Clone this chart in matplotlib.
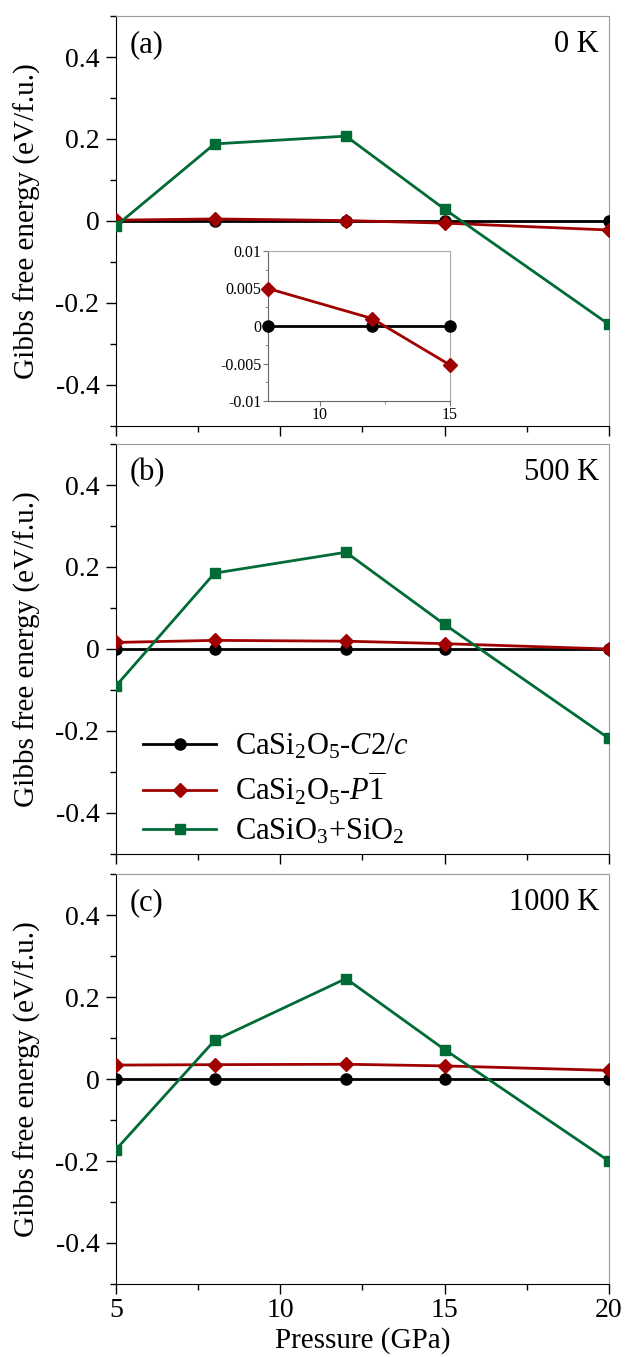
import matplotlib
matplotlib.use("Agg")
import matplotlib.pyplot as plt
from matplotlib.ticker import MultipleLocator

plt.rcParams['font.family'] = ['Liberation Serif', 'DejaVu Serif']
plt.rcParams['mathtext.fontset'] = 'custom'
plt.rcParams['mathtext.rm'] = 'Liberation Serif'
plt.rcParams['mathtext.it'] = 'Liberation Serif:italic'
plt.rcParams['mathtext.bf'] = 'Liberation Serif:bold'

pressure = [5, 8, 12, 15, 20]
c2c = {
    'a': [0, 0, 0, 0, 0],
    'b': [0, 0, 0, 0, 0],
    'c': [0, 0, 0, 0, 0],
}
p1 = {
    'a': [0.002, 0.005, 0.001, -0.0052, -0.022],
    'b': [0.016, 0.021, 0.019, 0.013, 0.0],
    'c': [0.034, 0.035, 0.036, 0.032, 0.021],
}
cs = {
    'a': [-0.012, 0.188, 0.207, 0.029, -0.252],
    'b': [-0.090, 0.185, 0.236, 0.060, -0.218],
    'c': [-0.172, 0.094, 0.245, 0.072, -0.200],
}
panel_labels = {'a': '(a)', 'b': '(b)', 'c': '(c)'}
temps = {'a': '0 K', 'b': '500 K', 'c': '1000 K'}

inset_p = [8, 12, 15]
inset_c2c = [0, 0, 0]
inset_p1 = [0.005, 0.001, -0.0052]

names = ['CaSi$_2$O$_5$-$C$2/$c$', r'CaSi$_2$O$_5$-$P\overline{1}$', 'CaSiO$_3$+SiO$_2$']
col_k = 'black'
col_r = '#a00000'
col_g = '#006b35'

fig = plt.figure(figsize=(6.29, 13.57), dpi=100)
left, width = 0.1844, 0.7835
bottoms = {'a': 0.6861, 'b': 0.3707, 'c': 0.0538}
height = 0.3021

axes = {}
for key in ['a', 'b', 'c']:
    ax = fig.add_axes([left, bottoms[key], width, height])
    axes[key] = ax
    ax.plot(pressure, c2c[key], color=col_k, lw=2, marker='o', ms=8, label=names[0], zorder=3)
    ax.plot(pressure, p1[key], color=col_r, lw=2, marker='D', ms=7, label=names[1], zorder=4)
    ax.plot(pressure, cs[key], color=col_g, lw=2, marker='s', ms=7.5, label=names[2], zorder=5)
    ax.set_xlim(5, 20)
    ax.set_ylim(-0.5, 0.5)
    ax.xaxis.set_major_locator(MultipleLocator(5))
    ax.xaxis.set_minor_locator(MultipleLocator(2.5))
    ax.yaxis.set_major_locator(MultipleLocator(0.2))
    ax.yaxis.set_minor_locator(MultipleLocator(0.1))
    ax.tick_params(which='both', direction='out', top=False, right=False, labelsize=20)
    ax.tick_params(which='major', length=7, width=1)
    ax.tick_params(which='minor', length=4, width=1)
    ax.tick_params(axis='y', pad=5)
    ax.tick_params(axis='x', pad=3)
    ax.set_yticks([-0.4, -0.2, 0, 0.2, 0.4])
    ax.set_yticklabels(['-0.4', '-0.2', '0', '0.2', '0.4'])
    ax.set_ylabel('Gibbs free energy (eV/f.u.)', fontsize=21)
    ax.yaxis.set_label_coords(-0.152, 0.5)
    ax.text(0.028, 0.966, panel_labels[key], transform=ax.transAxes, fontsize=22, va='top', ha='left')
    ax.text(0.98, 0.966, temps[key], transform=ax.transAxes, fontsize=22, va='top', ha='right')
    ax.set_xticks([5, 10, 15, 20])
    if key != 'c':
        ax.tick_params(labelbottom=False)
    else:
        ax.set_xticklabels(['5', '10', '15', '20'])
        ax.set_xlabel('Pressure (GPa)', fontsize=21, labelpad=3)
    ax.spines['top'].set_color('#999999')
    ax.spines['right'].set_color('#999999')

axes['b'].legend(loc='center left', bbox_to_anchor=(0.055, 0.158), frameon=False, fontsize=22,
                 handlelength=2.4, handletextpad=0.6, labelspacing=0.3, borderaxespad=0,
                 borderpad=0)

# inset
ins = fig.add_axes([268 / 629, 1 - 401 / 1357, 182 / 629, 150 / 1357])
ins.plot(inset_p, inset_c2c, color=col_k, lw=2, marker='o', ms=8, zorder=3, clip_on=False)
ins.plot(inset_p, inset_p1, color=col_r, lw=2, marker='D', ms=7, zorder=4, clip_on=False)
ins.set_xlim(8, 15)
ins.set_ylim(-0.01, 0.01)
ins.set_xticks([10, 15])
ins.xaxis.set_minor_locator(MultipleLocator(2.5))
ins.set_yticks([-0.01, -0.005, 0, 0.005, 0.01])
ins.set_yticklabels(['-0.01', '-0.005', '0', '0.005', '0.01'])
ins.yaxis.set_minor_locator(MultipleLocator(0.0025))
ins.tick_params(which='both', direction='out', labelsize=11.5, pad=1, color='#777777')
ins.tick_params(which='major', length=3.5)
ins.tick_params(which='minor', length=2)
for s in ins.spines.values():
    s.set_color('#aaaaaa')
ins.spines['left'].set_color('#666666')
ins.spines['bottom'].set_color('#666666')

fig.savefig('out.png', dpi=100)
